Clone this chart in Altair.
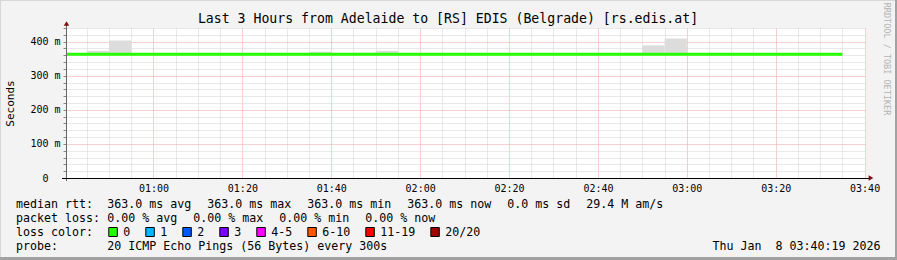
import altair as alt
import pandas as pd

# ---------------- data ----------------
title_text = "Last 3 Hours from Adelaide to [RS] EDIS (Belgrade) [rs.edis.at]"
y_title = "Seconds"
watermark = "RRDTOOL / TOBI OETIKER"

# time in minutes after midnight
t_start = 40 + 19 / 60
t_end = 220 + 19 / 60

smoke_start = [45, 50, 95, 105, 110, 165, 170, 175]
smoke_end = [50, 55, 100, 110, 115, 170, 175, 180]
smoke_low = [363, 363, 363, 363, 363, 363, 363, 363]
smoke_high = [373, 403, 370, 367, 373, 367, 389, 409]

median_time = [t_start, 215]
median_rtt = [363, 363]

x_major_values = [60, 80, 100, 120, 140, 160, 180, 200, 220]
x_major_labels = ["01:00", "01:20", "01:40", "02:00", "02:20", "02:40", "03:00", "03:20", "03:40"]
x_minor_values = list(range(45, 221, 5))
y_major_values = [0, 100, 200, 300, 400]
y_major_labels = ["0", "100 m", "200 m", "300 m", "400 m"]
y_minor_values = list(range(0, 441, 20))

rtt_stat_names = ["avg", "max", "min", "now"]
rtt_stat_values = [363.0, 363.0, 363.0, 363.0]
rtt_sd = 0.0
rtt_amps = "29.4 M"
loss_stat_names = ["avg", "max", "min", "now"]
loss_stat_values = [0.00, 0.00, 0.00, 0.00]
loss_labels = ["0", "1", "2", "3", "4-5", "6-10", "11-19", "20/20"]
loss_colors = ["#26ff00", "#00b8ff", "#0059ff", "#7e00ff", "#ff00ff", "#ff5500", "#ff0000", "#a10000"]
probe_text = "20 ICMP Echo Pings (56 Bytes) every 300s"
timestamp = "Thu Jan  8 03:40:19 2026"

# ---------------- layout / style ----------------
MONO = "DejaVu Sans Mono"
PL, PT, PW, PH = 66, 28, 800, 150
W, H = 897, 260
LFS = 11.63
CW = 0.602 * LFS
RED_GRID = "#f2a0a0"
GREY_GRID = "#d2d2d2"
ARROW = "#7f1010"

dummy = pd.DataFrame({"d": [0]})


def nb(s):
    return s.replace("  ", " \u00a0")


def txt(s, x, y, size=LFS, align="left", baseline="alphabetic", angle=0, color="#000000"):
    return alt.Chart(dummy).mark_text(
        align=align, baseline=baseline, font=MONO, fontSize=size, angle=angle, color=color
    ).encode(x=alt.value(x - PL), y=alt.value(y - PT), text=alt.value(nb(s)))


def rect(x1, x2, y1, y2, fill, stroke=None):
    kw = dict(fill=fill)
    if stroke:
        kw.update(stroke=stroke, strokeWidth=1)
    return alt.Chart(dummy).mark_rect(**kw).encode(
        x=alt.value(x1 - PL), x2=alt.value(x2 - PL), y=alt.value(y1 - PT), y2=alt.value(y2 - PT)
    )


def label_expr(values, labels):
    e = "''"
    for v, l in reversed(list(zip(values, labels))):
        e = f"datum.value === {v} ? '{l}' : ({e})"
    return e


x_axis = alt.Axis(
    values=x_minor_values, grid=True,
    gridColor={"condition": {"test": f"indexof({x_major_values}, datum.value) >= 0", "value": RED_GRID},
               "value": GREY_GRID},
    gridDash=[1, 1], gridWidth=1, domain=False, ticks=False,
    labelExpr=label_expr(x_major_values, x_major_labels), labelOverlap=False, labelFlush=False,
    labelFont=MONO, labelFontSize=10, labelColor="#000000", labelPadding=5, title=None,
)
y_axis = alt.Axis(
    values=y_minor_values, grid=True,
    gridColor={"condition": {"test": f"indexof({y_major_values}, datum.value) >= 0", "value": RED_GRID},
               "value": GREY_GRID},
    gridDash=[1, 1], gridWidth=1, domain=False, ticks=True, tickSize=3, tickColor="#888888",
    labelExpr=label_expr(y_major_values, y_major_labels), labelOverlap=False, labelFlush=False,
    labelAlign="center", labelBaseline="middle",
    labelFont=MONO, labelFontSize=10, labelColor="#000000", labelPadding=18, title=None,
)
xs = alt.Scale(domain=[t_start, t_end], nice=False, zero=False)
ys = alt.Scale(domain=[0, 440], nice=False, zero=False)

smoke_df = pd.DataFrame({"start": smoke_start, "end": smoke_end, "low": smoke_low, "high": smoke_high})
smoke = alt.Chart(smoke_df).mark_rect(color="#dcdcdc").encode(
    x=alt.X("start:Q", scale=xs, axis=x_axis), x2="end:Q",
    y=alt.Y("low:Q", scale=ys, axis=y_axis), y2="high:Q",
)

line_df = pd.DataFrame({"t": median_time, "rtt": median_rtt})
median_line = alt.Chart(line_df).mark_line(color="#26ff00", strokeWidth=3, clip=True).encode(
    x=alt.X("t:Q", scale=xs, axis=x_axis), y=alt.Y("rtt:Q", scale=ys, axis=y_axis)
)

layers = [smoke, median_line]

# axis lines and arrows
layers.append(alt.Chart(dummy).mark_rule(color="#666666", strokeWidth=1).encode(
    x=alt.value(0.5), y=alt.value(24 - PT), y2=alt.value(181 - PT)))
layers.append(alt.Chart(dummy).mark_rule(color="#000000", strokeWidth=1).encode(
    x=alt.value(62 - PL), x2=alt.value(869 - PL), y=alt.value(178.5 - PT)))
layers.append(alt.Chart(dummy).mark_point(shape="triangle-up", filled=True, size=30, color=ARROW, opacity=1).encode(
    x=alt.value(66.5 - PL), y=alt.value(23.5 - PT)))
layers.append(alt.Chart(dummy).mark_point(shape="triangle-right", filled=True, size=30, color=ARROW, opacity=1).encode(
    x=alt.value(871 - PL), y=alt.value(178 - PT)))

# titles
layers.append(txt(title_text, 448, 19, size=13.2, align="center", baseline="middle"))
layers.append(txt(y_title, 10.5, 103.5, size=11, align="center", baseline="middle", angle=270))
layers.append(txt(watermark, 887, 59, size=8.5, align="center", baseline="middle", angle=90, color="#b4b4b4"))

# legend rows
LX0, VX0, GAP = 16, 107.3, 16
row_y = [208.3, 222.3, 236.0, 250.0]

row1 = [f"{v:.1f} ms {n}" for n, v in zip(rtt_stat_names, rtt_stat_values)] + [f"{rtt_sd:.1f} ms sd", f"{rtt_amps} am/s"]
row2 = [f"{v:.2f} % {n}" for n, v in zip(loss_stat_names, loss_stat_values)]

layers.append(txt("median rtt:", LX0, row_y[0]))
x = VX0
for s in row1:
    layers.append(txt(s, x, row_y[0]))
    x += len(s) * CW + GAP

layers.append(txt("packet loss:", LX0, row_y[1]))
x = VX0
for s in row2:
    layers.append(txt(s, x, row_y[1]))
    x += len(s) * CW + GAP

layers.append(txt("loss color:", LX0, row_y[2]))
x = 108.3
for lab, col in zip(loss_labels, loss_colors):
    layers.append(rect(x + 0.5, x + 9, 227.5, 236.5, col, stroke="#000000"))
    layers.append(txt(lab, x + 15, row_y[2]))
    x += 30 + len(lab) * CW

layers.append(txt("probe:", LX0, row_y[3]))
layers.append(txt(probe_text, VX0, row_y[3]))
layers.append(txt(timestamp, 880.5, row_y[3], align="right"))

# frame
layers.append(rect(0, W, 0, 1, "#d8d8d8"))
layers.append(rect(0, 1, 0, H, "#d8d8d8"))
layers.append(rect(895, W, 0, H, "#a2a2a2"))
layers.append(rect(0, W, 257, H, "#a2a2a2"))

chart = alt.layer(*layers).properties(
    width=PW, height=PH,
    autosize=alt.AutoSizeParams(type="none"),
    padding={"left": PL, "top": PT, "right": W - PL - PW, "bottom": H - PT - PH},
).configure(background="#f3f3f3").configure_view(fill="white", strokeWidth=0)

chart.save("out.html", embed_options={"renderer": "svg", "actions": False})
